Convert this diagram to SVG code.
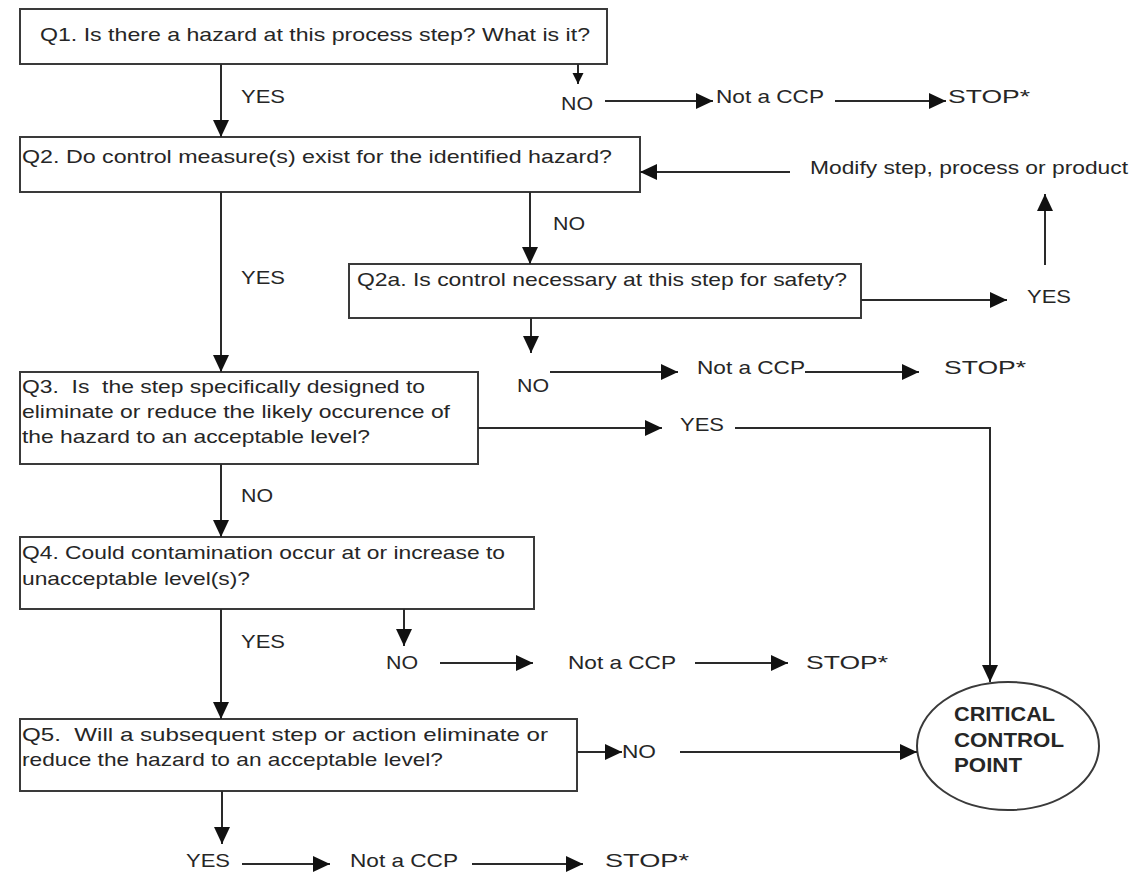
<svg xmlns="http://www.w3.org/2000/svg" width="1133" height="874" viewBox="0 0 1133 874">
<style>
  .box { fill: #ffffff; stroke: #3a3a3a; stroke-width: 2; }
  .t { font-family: "Liberation Sans", Arial, sans-serif; font-size: 19px; fill: #262626; }
  .b { font-family: "Liberation Sans", Arial, sans-serif; font-size: 20px; font-weight: bold; fill: #262626; }
  .ln { fill: none; stroke: #2a2a2a; stroke-width: 2; }
  .ar { marker-end: url(#ah); }
  .ars { marker-end: url(#ahs); }
</style>
<defs>
  <marker id="ah" markerUnits="userSpaceOnUse" markerWidth="18" markerHeight="18" refX="17" refY="8" orient="auto" viewBox="0 0 18 16">
    <path d="M0,0 L17,8 L0,16 Z" fill="#111111"/>
  </marker>
  <marker id="ahs" markerUnits="userSpaceOnUse" markerWidth="12" markerHeight="12" refX="11" refY="5.5" orient="auto" viewBox="0 0 12 11">
    <path d="M0,0 L11,5.5 L0,11 Z" fill="#111111"/>
  </marker>
</defs>
<rect width="1133" height="874" fill="#ffffff"/>

<g id="q1">
  <rect class="box" x="20" y="9" width="587" height="55"/>
  <text class="t" x="40" y="41" textLength="550" lengthAdjust="spacingAndGlyphs">Q1. Is there a hazard at this process step? What is it?</text>
</g>
<g id="q2">
  <rect class="box" x="20" y="137" width="620" height="55"/>
  <text class="t" x="22" y="163" textLength="590" lengthAdjust="spacingAndGlyphs">Q2. Do control measure(s) exist for the identified hazard?</text>
</g>
<g id="modify">
  <text class="t" x="810" y="174" textLength="318" lengthAdjust="spacingAndGlyphs">Modify step, process or product</text>
</g>
<g id="q2a">
  <rect class="box" x="349" y="264" width="512" height="54"/>
  <text class="t" x="357" y="286" textLength="490" lengthAdjust="spacingAndGlyphs">Q2a. Is control necessary at this step for safety?</text>
</g>
<g id="q3">
  <rect class="box" x="20" y="372" width="458" height="92"/>
  <text class="t" x="22" y="393" textLength="403" lengthAdjust="spacingAndGlyphs" xml:space="preserve">Q3.  Is  the step specifically designed to</text>
  <text class="t" x="22" y="418" textLength="428" lengthAdjust="spacingAndGlyphs">eliminate or reduce the likely occurence of</text>
  <text class="t" x="22" y="443" textLength="348" lengthAdjust="spacingAndGlyphs">the hazard to an acceptable level?</text>
</g>
<g id="q4">
  <rect class="box" x="20" y="537" width="514" height="72"/>
  <text class="t" x="22" y="559" textLength="483" lengthAdjust="spacingAndGlyphs">Q4. Could contamination occur at or increase to</text>
  <text class="t" x="22" y="585" textLength="228" lengthAdjust="spacingAndGlyphs">unacceptable level(s)?</text>
</g>
<g id="q5">
  <rect class="box" x="20" y="719" width="557" height="72"/>
  <text class="t" x="22" y="741" textLength="526" lengthAdjust="spacingAndGlyphs" xml:space="preserve">Q5.  Will a subsequent step or action eliminate or</text>
  <text class="t" x="22" y="766" textLength="421" lengthAdjust="spacingAndGlyphs">reduce the hazard to an acceptable level?</text>
</g>
<g id="ccp">
  <ellipse class="box" cx="1008" cy="746" rx="91" ry="64"/>
  <text class="b" x="954" y="721" textLength="101" lengthAdjust="spacingAndGlyphs">CRITICAL</text>
  <text class="b" x="954" y="747" textLength="110" lengthAdjust="spacingAndGlyphs">CONTROL</text>
  <text class="b" x="954" y="772" textLength="68" lengthAdjust="spacingAndGlyphs">POINT</text>
</g>

<g id="labels">
  <text class="t" x="241" y="103" textLength="44" lengthAdjust="spacingAndGlyphs">YES</text>
  <text class="t" x="561" y="110" textLength="32" lengthAdjust="spacingAndGlyphs">NO</text>
  <text class="t" x="716" y="103" textLength="108" lengthAdjust="spacingAndGlyphs">Not a CCP</text>
  <text class="t" x="948" y="103" textLength="82" lengthAdjust="spacingAndGlyphs">STOP*</text>

  <text class="t" x="553" y="230" textLength="32" lengthAdjust="spacingAndGlyphs">NO</text>
  <text class="t" x="241" y="284" textLength="44" lengthAdjust="spacingAndGlyphs">YES</text>
  <text class="t" x="1027" y="303" textLength="44" lengthAdjust="spacingAndGlyphs">YES</text>

  <text class="t" x="517" y="392" textLength="32" lengthAdjust="spacingAndGlyphs">NO</text>
  <text class="t" x="697" y="374" textLength="108" lengthAdjust="spacingAndGlyphs">Not a CCP</text>
  <text class="t" x="944" y="374" textLength="82" lengthAdjust="spacingAndGlyphs">STOP*</text>

  <text class="t" x="680" y="431" textLength="44" lengthAdjust="spacingAndGlyphs">YES</text>
  <text class="t" x="241" y="502" textLength="32" lengthAdjust="spacingAndGlyphs">NO</text>

  <text class="t" x="241" y="648" textLength="44" lengthAdjust="spacingAndGlyphs">YES</text>
  <text class="t" x="386" y="669" textLength="32" lengthAdjust="spacingAndGlyphs">NO</text>
  <text class="t" x="568" y="669" textLength="108" lengthAdjust="spacingAndGlyphs">Not a CCP</text>
  <text class="t" x="806" y="669" textLength="82" lengthAdjust="spacingAndGlyphs">STOP*</text>

  <text class="t" x="622" y="758" textLength="34" lengthAdjust="spacingAndGlyphs">NO</text>

  <text class="t" x="186" y="867" textLength="44" lengthAdjust="spacingAndGlyphs">YES</text>
  <text class="t" x="350" y="867" textLength="108" lengthAdjust="spacingAndGlyphs">Not a CCP</text>
  <text class="t" x="605" y="867" textLength="84" lengthAdjust="spacingAndGlyphs">STOP*</text>
</g>

<g id="connectors">
  <!-- Q1 -->
  <line class="ln ar" x1="221" y1="64" x2="221" y2="137"/>
  <line class="ln ars" x1="578" y1="64" x2="578" y2="84"/>
  <line class="ln ar" x1="605" y1="101" x2="713" y2="101"/>
  <line class="ln ar" x1="835" y1="101" x2="946" y2="101"/>
  <!-- Q2 -->
  <line class="ln ar" x1="790" y1="172" x2="640" y2="172"/>
  <line class="ln ar" x1="530" y1="192" x2="530" y2="264"/>
  <line class="ln ar" x1="221" y1="192" x2="221" y2="372"/>
  <!-- Q2a -->
  <line class="ln ar" x1="861" y1="300" x2="1007" y2="300"/>
  <line class="ln ar" x1="1045" y1="265" x2="1045" y2="194"/>
  <line class="ln ar" x1="531" y1="318" x2="531" y2="353"/>
  <line class="ln ar" x1="550" y1="372" x2="678" y2="372"/>
  <line class="ln ar" x1="805" y1="372" x2="919" y2="372"/>
  <!-- Q3 -->
  <line class="ln ar" x1="478" y1="428" x2="662" y2="428"/>
  <polyline class="ln ar" points="735,428 990,428 990,682"/>
  <line class="ln ar" x1="221" y1="464" x2="221" y2="537"/>
  <!-- Q4 -->
  <line class="ln ar" x1="221" y1="609" x2="221" y2="719"/>
  <line class="ln ar" x1="404" y1="609" x2="404" y2="646"/>
  <line class="ln ar" x1="440" y1="663" x2="533" y2="663"/>
  <line class="ln ar" x1="695" y1="663" x2="788" y2="663"/>
  <!-- Q5 -->
  <line class="ln ar" x1="577" y1="752" x2="622" y2="752"/>
  <line class="ln ar" x1="680" y1="752" x2="917" y2="752"/>
  <line class="ln ar" x1="222" y1="791" x2="222" y2="844"/>
  <line class="ln ar" x1="242" y1="864" x2="330" y2="864"/>
  <line class="ln ar" x1="472" y1="864" x2="583" y2="864"/>
</g>
</svg>
